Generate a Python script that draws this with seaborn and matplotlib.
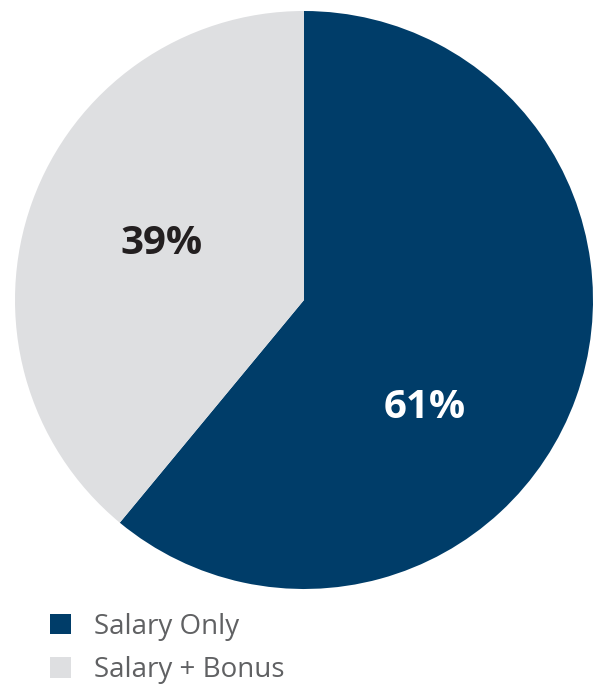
import matplotlib
matplotlib.use("Agg")
import matplotlib.pyplot as plt
import seaborn as sns

# Share of compensation structures
categories = ["Salary Only", "Salary + Bonus"]
shares = [61, 39]
colors = ["#003D69", "#DEDFE1"]
label_colors = ["white", "#231F20"]

sns.set_theme(style="white")
plt.rcParams["font.family"] = ["Open Sans", "DejaVu Sans"]

W, H = 595, 684
fig = plt.figure(figsize=(W / 100, H / 100), dpi=100)
# pie area: centre (304, 300), radius 289 px
cx, cy, r = 304, 300, 289
ax = fig.add_axes([(cx - r) / W, (H - cy - r) / H, 2 * r / W, 2 * r / H])

wedges, texts = ax.pie(
    shares,
    colors=colors,
    startangle=90,
    counterclock=False,
    wedgeprops=dict(linewidth=0),
)
ax.set_xlim(-1, 1)
ax.set_ylim(-1, 1)
ax.set_aspect("equal")

# percentage labels placed inside each wedge
label_pos = [(425, 408), (162, 243)]
for (px, py), val, c in zip(label_pos, shares, label_colors):
    x = (px - cx) / r
    y = -(py - cy) / r
    ax.text(x, y, f"{val}%", ha="center", va="center", fontsize=29,
            fontweight="bold", color=c)

leg = fig.legend(
    wedges, categories,
    loc="upper left",
    bbox_to_anchor=(50 / W, 1 - 613 / H),
    frameon=False,
    fontsize=20,
    handlelength=0.75,
    handleheight=0.75,
    handletextpad=0.85,
    labelspacing=0.55,
    borderpad=0,
    borderaxespad=0,
)
for t in leg.get_texts():
    t.set_color("#606163")

fig.savefig("out.png", dpi=100)
